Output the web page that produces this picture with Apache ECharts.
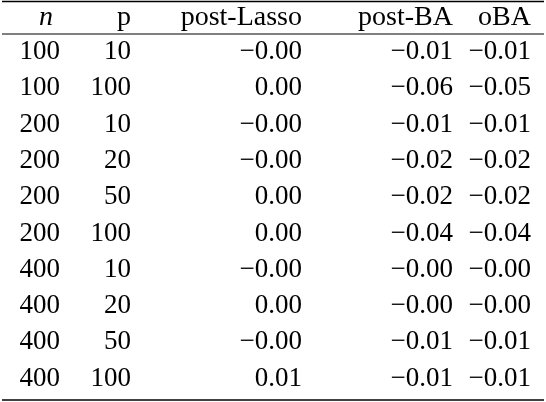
<!DOCTYPE html>
<html><head><meta charset="utf-8">
<script src="https://cdn.jsdelivr.net/npm/echarts@6/dist/echarts.min.js"></script>
<style>html,body{margin:0;background:#fff}#c{width:546px;height:402px}</style>
</head><body><div id="c"></div>
<script>
const headers = ['n','p','post-Lasso','post-BA','oBA'];
const nVals = [100,100,200,200,200,200,400,400,400,400];
const pVals = [10,100,10,20,50,100,10,20,50,100];
const postLasso = ['-0.00','0.00','-0.00','-0.00','0.00','0.00','-0.00','0.00','-0.00','0.01'];
const postBA = ['-0.01','-0.06','-0.01','-0.02','-0.02','-0.04','-0.00','-0.00','-0.01','-0.01'];
const oBA = ['-0.01','-0.05','-0.01','-0.02','-0.02','-0.04','-0.00','-0.00','-0.01','-0.01'];

const colRight = [60,131,302,453,531];
const mk = s => s+'px "Liberation Serif", "DejaVu Serif", serif';
const g = [];
const txt = (x,y,s,italic,size) => ({type:'text',x:x,y:y,style:{text:s.replace(/^-/,'\u2212'),font:(italic?'italic ':'')+mk(size),fill:'#000',align:'right',verticalAlign:'middle'}});
headers.forEach((h,i)=>{
  let x = colRight[i];
  if(i===0) x = 53;
  g.push(txt(x,18,h,i===0,28));
});
const cols=[nVals.map(String),pVals.map(String),postLasso,postBA,oBA];
for(let r=0;r<nVals.length;r++){
  const y=52+r*36.3;
  cols.forEach((c,i)=>g.push(txt(colRight[i],y,c[r],false,27)));
}
const line=(y,w)=>({type:'line',shape:{x1:2,y1:y,x2:544,y2:y},style:{stroke:'#000',lineWidth:w}});
g.push(line(1.5,1.6),line(34,1),line(400,1.6));
const chart=echarts.init(document.getElementById('c'));
chart.setOption({animation:false,graphic:g});
</script></body></html>
